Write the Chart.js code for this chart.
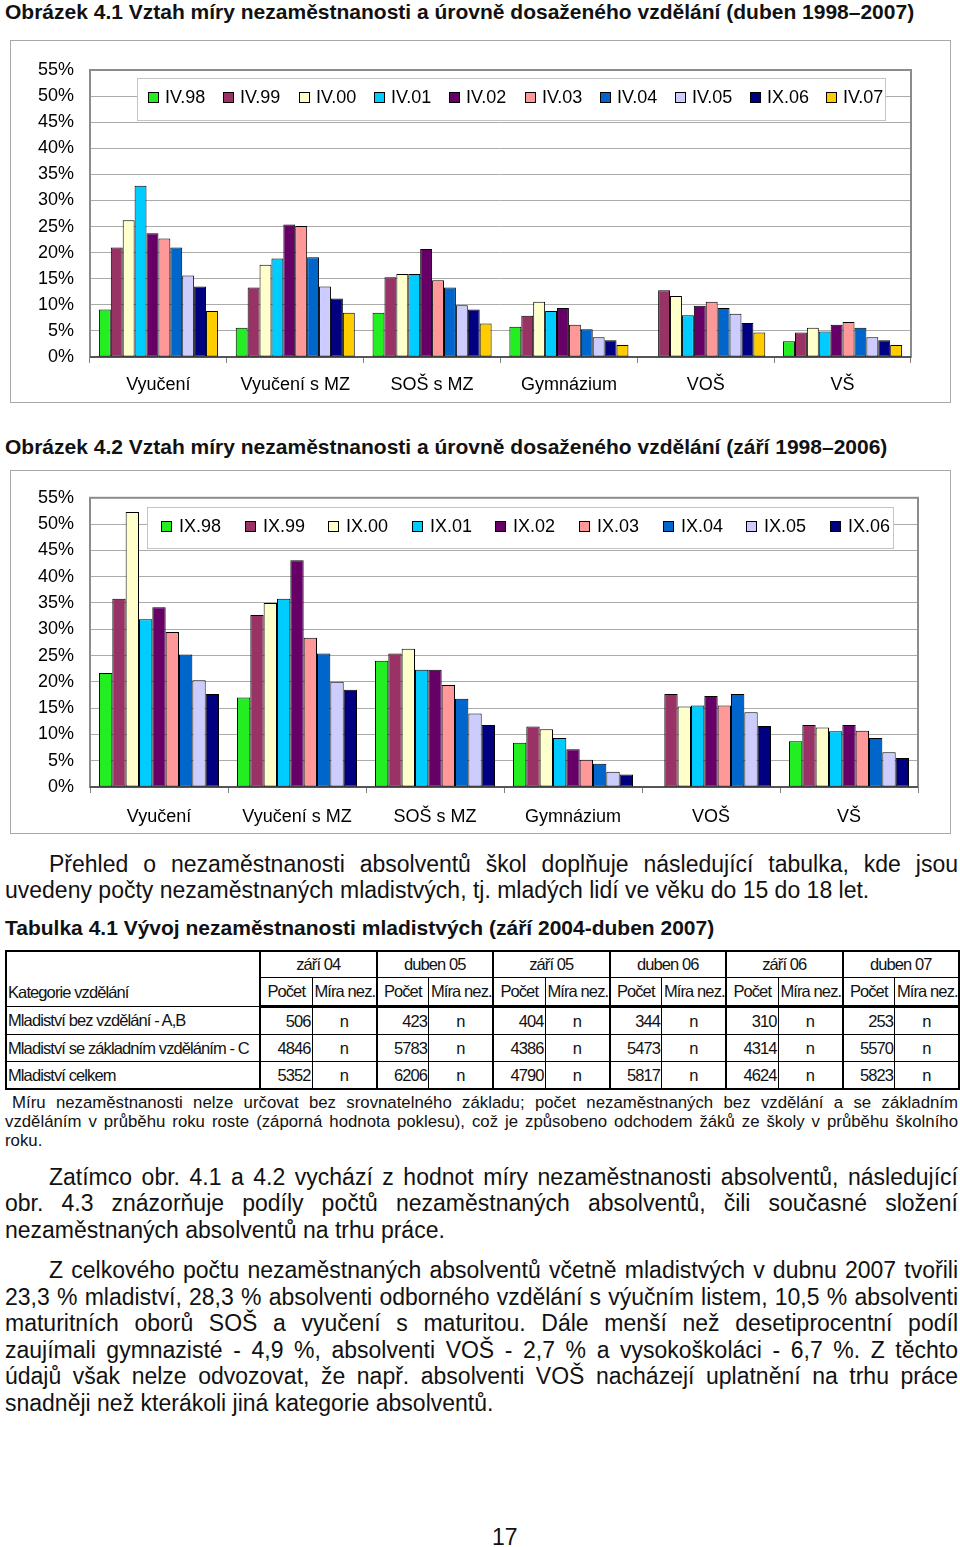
<!DOCTYPE html>
<html>
<head>
<meta charset="utf-8">
<script src="https://cdn.jsdelivr.net/npm/chart.js@4.4.0/dist/chart.umd.min.js"></script>
<style>
  body { margin: 0; background: #fff; font-family: Arial, "Liberation Sans", sans-serif; color: #111; }
  #page { position: relative; width: 960px; height: 1547px; overflow: hidden; }
  .abs { position: absolute; }
  .title { font-weight: bold; font-size: 21px; line-height: 24px; white-space: nowrap; }
  .box { border: 1px solid #a8a8a8; box-sizing: border-box; background: #fff; }
  .box canvas { position: absolute; left: 0; top: 0; }
  .ln { position: absolute; left: 5px; width: 953px; font-size: 23px; line-height: 26px; white-space: nowrap; }
  .just { text-align: justify; text-align-last: justify; }
  .ind { padding-left: 44px; box-sizing: border-box; }
  .note { font-size: 16.8px; line-height: 19px; }
  #tab { position: absolute; left: 5px; top: 950px; width: 953px; border-collapse: collapse; table-layout: fixed;
         font-size: 16.5px; letter-spacing: -0.9px; border: 2px solid #000; }
  #tab td { border: 1px solid #000; padding: 0 2px; white-space: nowrap; overflow: hidden; }
  #tab tr.h1 td { height: 25px; text-align: center; }
  #tab tr.h2 td { height: 27px; text-align: center; border-bottom: 3px solid #000; }
  #tab tr.d td { height: 26px; }
  #tab tr td.cat { text-align: left; vertical-align: bottom; padding: 0 0 4px 1px; border-right: 2px solid #000; }
  #tab tr.d td.cat { vertical-align: middle; padding-bottom: 0; }
  #tab td.num { text-align: right; padding-right: 1px; }
  #tab td.n { text-align: center; }
  #tab td.pl { border-left: 2px solid #000; }
</style>
</head>
<body>
<div id="page">
  <div class="abs title" style="left:5px; top:0px;">Obrázek 4.1 Vztah míry nezaměstnanosti a úrovně dosaženého vzdělání (duben 1998–2007)</div>
  <div class="abs box" style="left:10px; top:40px; width:941px; height:363px;"><canvas id="chart1" width="939" height="361"></canvas></div>

  <div class="abs title" style="left:5px; top:435px;">Obrázek 4.2 Vztah míry nezaměstnanosti a úrovně dosaženého vzdělání (září 1998–2006)</div>
  <div class="abs box" style="left:10px; top:470px; width:941px; height:364px;"><canvas id="chart2" width="939" height="362"></canvas></div>

  <div class="ln just ind" style="top:851px;">Přehled o nezaměstnanosti absolventů škol doplňuje následující tabulka, kde jsou</div>
  <div class="ln" style="top:877px;">uvedeny počty nezaměstnaných mladistvých, tj. mladých lidí ve věku do 15 do 18 let.</div>

  <div class="abs title" style="left:5px; top:916px;">Tabulka 4.1 Vývoj nezaměstnanosti mladistvých (září 2004-duben 2007)</div>

  <table id="tab"></table>

  <div class="ln note just" style="top:1093px; padding-left:7px; box-sizing:border-box;">Míru nezaměstnanosti nelze určovat bez srovnatelného základu; počet nezaměstnaných bez vzdělání a se základním</div>
  <div class="ln note just" style="top:1112px;">vzděláním v průběhu roku roste (záporná hodnota poklesu), což je způsobeno odchodem žáků ze školy v průběhu školního</div>
  <div class="ln note" style="top:1131px;">roku.</div>

  <div class="ln just ind" style="top:1164px;">Zatímco obr. 4.1 a 4.2 vychází z hodnot míry nezaměstnanosti absolventů, následující</div>
  <div class="ln just" style="top:1190px;">obr. 4.3 znázorňuje podíly počtů nezaměstnaných absolventů, čili současné složení</div>
  <div class="ln" style="top:1217px;">nezaměstnaných absolventů na trhu práce.</div>

  <div class="ln just ind" style="top:1257px;">Z celkového počtu nezaměstnaných absolventů včetně mladistvých v dubnu 2007 tvořili</div>
  <div class="ln just" style="top:1284px;">23,3 % mladiství, 28,3 % absolventi odborného vzdělání s výučním listem, 10,5 % absolventi</div>
  <div class="ln just" style="top:1310px;">maturitních oborů SOŠ a vyučení s maturitou. Dále menší než desetiprocentní podíl</div>
  <div class="ln just" style="top:1337px;">zaujímali gymnazisté - 4,9 %, absolventi VOŠ - 2,7 % a vysokoškoláci - 6,7 %. Z těchto</div>
  <div class="ln just" style="top:1363px;">údajů však nelze odvozovat, že např. absolventi VOŠ nacházejí uplatnění na trhu práce</div>
  <div class="ln" style="top:1390px;">snadněji než kterákoli jiná kategorie absolventů.</div>

  <div class="abs" style="left:492px; top:1524px; font-size:23px; line-height:26px;">17</div>
</div>

<script>
// kategorie vzdělání (osa x)
const categories = ['Vyučení', 'Vyučení s MZ', 'SOŠ s MZ', 'Gymnázium', 'VOŠ', 'VŠ'];
const yTicks = [0, 5, 10, 15, 20, 25, 30, 35, 40, 45, 50, 55];

const seriesColors = ['#22ee22', '#993366', '#ffffcc', '#00ccff', '#660066',
                      '#ff9999', '#0066cc', '#ccccff', '#000080', '#ffcc00'];

// obr. 4.1 - duben (hodnoty v %, po kategoriích)
const dubenLabels = ['IV.98', 'IV.99', 'IV.00', 'IV.01', 'IV.02', 'IV.03', 'IV.04', 'IV.05', 'IX.06', 'IV.07'];
const dubenValues = [
  [9.1, 5.6, 8.5, 5.8, null, 3.0],    // IV.98
  [21.0, 13.3, 15.3, 7.9, 12.8, 4.7], // IV.99
  [26.2, 17.7, 15.9, 10.6, 11.7, 5.6],// IV.00
  [32.8, 18.9, 15.9, 8.8, 8.0, 4.9],  // IV.01
  [23.7, 25.4, 20.7, 9.4, 9.8, 6.2],  // IV.02
  [22.7, 25.1, 14.7, 6.2, 10.6, 6.7], // IV.03
  [21.0, 19.1, 13.3, 5.3, 9.4, 5.6],  // IV.04
  [15.6, 13.5, 9.9, 3.8, 8.3, 3.8],   // IV.05
  [13.5, 11.2, 9.1, 3.2, 6.5, 3.2],   // IX.06
  [8.8, 8.5, 6.4, 2.3, 4.7, 2.3]      // IV.07
];

// obr. 4.2 - září
const zariLabels = ['IX.98', 'IX.99', 'IX.00', 'IX.01', 'IX.02', 'IX.03', 'IX.04', 'IX.05', 'IX.06'];
const zariValues = [
  [21.7, 17.0, 24.0, 8.4, null, 8.7],  // IX.98
  [35.8, 32.7, 25.4, 11.5, 17.7, 11.8],// IX.99
  [52.3, 35.0, 26.3, 11.0, 15.3, 11.3],// IX.00
  [31.9, 35.8, 22.3, 9.3, 15.5, 10.6], // IX.01
  [34.2, 43.1, 22.3, 7.2, 17.3, 11.8], // IX.02
  [29.5, 28.4, 19.4, 5.2, 15.5, 10.7], // IX.03
  [25.2, 25.4, 16.8, 4.4, 17.7, 9.3],  // IX.04
  [20.3, 20.0, 14.0, 2.9, 14.2, 6.6],  // IX.05
  [17.7, 18.5, 11.8, 2.4, 11.6, 5.5]   // IX.06
];

// tabulka 4.1
const tabPeriods = ['září 04', 'duben 05', 'září 05', 'duben 06', 'září 06', 'duben 07'];
const tabRows = ['Mladiství bez vzdělání - A,B', 'Mladiství se základním vzděláním - C', 'Mladiství celkem'];
const tabCounts = [
  [506, 423, 404, 344, 310, 253],
  [4846, 5783, 4386, 5473, 4314, 5570],
  [5352, 6206, 4790, 5817, 4624, 5823]
];

Chart.defaults.font.family = 'Arial, "Liberation Sans", sans-serif';
Chart.defaults.font.size = 18;
Chart.defaults.color = '#000';

// rámeček grafu + legenda v rámečku uvnitř plochy
const frameLegend = {
  id: 'frameLegend',
  beforeDatasetsDraw(chart) {
    const ctx = chart.ctx, a = chart.chartArea;
    ctx.save();
    ctx.strokeStyle = '#8c8c8c';
    ctx.lineWidth = 2;
    ctx.strokeRect(a.left, a.top, a.right - a.left, a.bottom - a.top);
    ctx.strokeStyle = '#555';
    ctx.beginPath(); ctx.moveTo(a.left, a.bottom); ctx.lineTo(a.right, a.bottom); ctx.stroke();
    ctx.restore();
  },
  afterDraw(chart, args, o) {
    const ctx = chart.ctx, a = chart.chartArea;
    const x0 = Math.round(a.left + o.dx), y0 = Math.round(a.top + o.dy);
    ctx.save();
    ctx.fillStyle = '#fff';
    ctx.fillRect(x0, y0, o.w, o.h);
    ctx.strokeStyle = '#c4c4c4';
    ctx.lineWidth = 1;
    ctx.strokeRect(x0 + 0.5, y0 + 0.5, o.w, o.h);
    ctx.font = '18px Arial, "Liberation Sans", sans-serif';
    ctx.textBaseline = 'middle';
    const cy = Math.round(y0 + o.h / 2 - 2);
    chart.data.datasets.forEach((ds, i) => {
      const sx = Math.round(x0 + o.first + i * o.pitch);
      ctx.fillStyle = ds.backgroundColor;
      ctx.fillRect(sx, cy - 5, 11, 11);
      ctx.strokeStyle = '#000';
      ctx.strokeRect(sx + 0.5, cy - 4.5, 10, 10);
      ctx.fillStyle = '#000';
      ctx.fillText(ds.label, sx + o.gap, cy + 1);
    });
    ctx.restore();
  }
};

function makeChart(id, labels, values, pad, xHeight, xPad, legend) {
  const datasets = labels.map((lab, i) => ({
    label: lab,
    data: values[i],
    backgroundColor: seriesColors[i],
    borderColor: '#000',
    borderWidth: 1,
    borderSkipped: false,
    categoryPercentage: 0.87,
    barPercentage: 1.0
  }));
  return new Chart(document.getElementById(id), {
    type: 'bar',
    data: { labels: categories, datasets: datasets },
    options: {
      responsive: false,
      animation: false,
      layout: { padding: pad },
      plugins: { legend: { display: false }, tooltip: { enabled: false }, frameLegend: legend },
      scales: {
        x: {
          grid: { display: true, drawOnChartArea: false, drawTicks: true, tickLength: 6, offset: true, color: '#808080' },
          border: { display: false },
          ticks: { padding: xPad, maxRotation: 0, font: { size: 18 } },
          afterFit: s => { s.height = xHeight; }
        },
        y: {
          min: 0, max: 55,
          afterBuildTicks: s => { s.ticks = yTicks.map(v => ({ value: v })); },
          grid: { color: '#ababab', drawTicks: false },
          border: { display: false },
          ticks: { padding: 16, callback: v => v + '%', font: { size: 18 } },
          afterFit: s => { s.width = 79; }
        }
      }
    },
    plugins: [frameLegend]
  });
}

makeChart('chart1', dubenLabels, dubenValues, { top: 29, right: 39, left: 0, bottom: 0 }, 45, 11,
  { dx: 47, dy: 8, w: 748, h: 42, first: 11, pitch: 75.3, gap: 17 });
makeChart('chart2', zariLabels, zariValues, { top: 22, right: 32, left: 0, bottom: 0 }, 46, 13,
  { dx: 57, dy: 9, w: 746, h: 41, first: 14, pitch: 83.6, gap: 18 });

// tabulka
const tab = document.getElementById('tab');
let html = '<colgroup><col style="width:254px">';
tabPeriods.forEach(() => { html += '<col style="width:52px"><col style="width:64.5px">'; });
html += '</colgroup><tr class="h1"><td class="cat" rowspan="2">Kategorie vzdělání</td>';
tabPeriods.forEach(p => { html += '<td colspan="2" class="pl">' + p + '</td>'; });
html += '</tr><tr class="h2">';
tabPeriods.forEach(() => { html += '<td class="pl">Počet</td><td>Míra nez.</td>'; });
html += '</tr>';
tabRows.forEach((r, i) => {
  html += '<tr class="d"><td class="cat">' + r + '</td>';
  tabCounts[i].forEach(c => { html += '<td class="num pl">' + c + '</td><td class="n">n</td>'; });
  html += '</tr>';
});
tab.innerHTML = html;
</script>
</body>
</html>
